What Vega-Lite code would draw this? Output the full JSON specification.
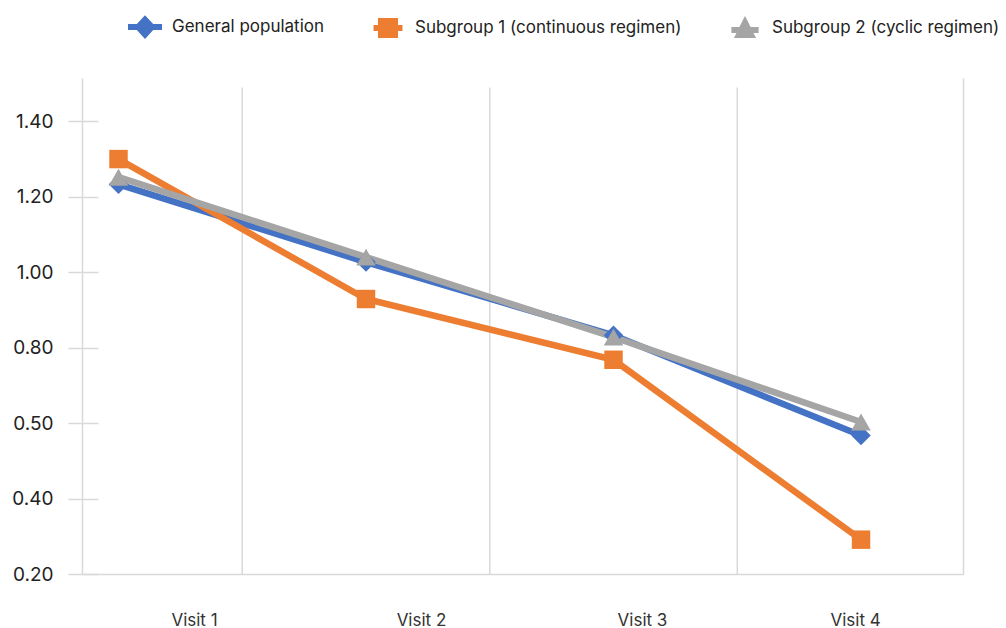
{
  "$schema": "https://vega.github.io/schema/vega-lite/v6.json",
  "width": 881,
  "height": 496,
  "autosize": "none",
  "padding": {"left": 82, "top": 78, "right": 43, "bottom": 54},
  "config": {"view": {"stroke": null}, "font": "Inter"},
  "data": {
    "values": [
      {"series": "General population", "visit": 1, "value": 1.233},
      {"series": "General population", "visit": 2, "value": 1.027},
      {"series": "General population", "visit": 3, "value": 0.833},
      {"series": "General population", "visit": 4, "value": 0.567},
      {"series": "Subgroup 1 (continuous regimen)", "visit": 1, "value": 1.300},
      {"series": "Subgroup 1 (continuous regimen)", "visit": 2, "value": 0.929},
      {"series": "Subgroup 1 (continuous regimen)", "visit": 3, "value": 0.768},
      {"series": "Subgroup 1 (continuous regimen)", "visit": 4, "value": 0.291},
      {"series": "Subgroup 2 (cyclic regimen)", "visit": 1, "value": 1.252},
      {"series": "Subgroup 2 (cyclic regimen)", "visit": 2, "value": 1.040},
      {"series": "Subgroup 2 (cyclic regimen)", "visit": 3, "value": 0.828},
      {"series": "Subgroup 2 (cyclic regimen)", "visit": 4, "value": 0.603}
    ]
  },
  "encoding": {
    "x": {
      "field": "visit",
      "type": "quantitative",
      "scale": {"domain": [0.8525, 4.412], "nice": false, "zero": false},
      "axis": {
        "title": null,
        "values": [1.305, 2.222, 3.115, 3.976],
        "labelExpr": "'Visit ' + round(datum.value)",
        "ticks": false,
        "grid": false,
        "domainColor": "#d9d9d9",
        "domainWidth": 1.5,
        "labelPadding": 38,
        "labelFontSize": 17,
        "labelColor": "#333333",
        "labelFlush": false,
        "labelOverlap": false
      }
    }
  },
  "layer": [
    {
      "data": {"values": [{"visit": 1.5}, {"visit": 2.5}, {"visit": 3.5}]},
      "mark": {"type": "rule", "color": "#d9d9d9", "strokeWidth": 1.5},
      "encoding": {
        "y": {
          "datum": 1.49,
          "type": "quantitative",
          "scale": {"domain": [0.2, 1.515], "nice": false, "zero": false},
          "axis": {"orient": "right", "title": null, "labels": false, "ticks": false, "grid": false, "domain": true, "domainColor": "#d9d9d9", "domainWidth": 1.5}
        },
        "y2": {"datum": 0.2}
      }
    },
    {
      "mark": {"type": "line", "strokeWidth": 6.5},
      "encoding": {
        "y": {
          "field": "value",
          "type": "quantitative",
          "scale": {"domain": [0.2, 1.515], "nice": false, "zero": false},
          "axis": {
            "title": null,
            "values": [0.2, 0.4, 0.6, 0.8, 1.0, 1.2, 1.4],
            "labelExpr": "abs(datum.value - 0.6) < 0.001 ? '0.50' : format(datum.value, '.2f')",
            "labelFontSize": 19,
            "labelColor": "#222222",
            "labelPadding": 15,
            "tickSize": 14,
            "tickColor": "#d9d9d9",
            "tickWidth": 1.5,
            "domainColor": "#d9d9d9",
            "domainWidth": 1.5,
            "grid": true,
            "gridColor": "#d9d9d9",
            "gridWidth": 1.5,
            "gridDash": [16, 3000]
          }
        },
        "color": {
          "field": "series",
          "type": "nominal",
          "scale": {
            "domain": ["General population", "Subgroup 1 (continuous regimen)", "Subgroup 2 (cyclic regimen)"],
            "range": ["#4472C4", "#ED7D31", "#A5A5A5"]
          },
          "legend": {
            "title": null,
            "orient": "none",
            "direction": "horizontal",
            "legendX": 46,
            "legendY": -68,
            "symbolSize": 1156,
            "labelFontSize": 17,
            "labelLimit": 400,
            "labelColor": "#222222",
            "labelOffset": 10,
            "columnPadding": 46,
            "encode": {
              "symbols": {
                "update": {
                  "fill": {"scale": "color", "field": "value"},
                  "fillOpacity": {"value": 1},
                  "strokeWidth": {"value": 0},
                  "shape": {"signal": "datum.value === 'General population' ? 'M-1,-0.18H-0.48L0,-0.7L0.48,-0.18H1V0.18H0.48L0,0.7L-0.48,0.18H-1Z' : datum.value === 'Subgroup 1 (continuous regimen)' ? 'M-0.85,-0.18H-0.59V-0.59H0.59V-0.18H0.85V0.18H0.59V0.59H-0.59V0.18H-0.85Z' : 'M-0.8,-0.05H-0.33L0,-0.7L0.33,-0.05H0.8V0.3H0.5L0.65,0.6H-0.65L-0.5,0.3H-0.8Z'"}
                }
              }
            }
          }
        }
      }
    },
    {
      "transform": [{"filter": "datum.series === 'General population'"}],
      "mark": {"type": "point", "shape": "diamond", "filled": true, "opacity": 1, "size": 380},
      "encoding": {
        "y": {"field": "value", "type": "quantitative", "axis": null},
        "color": {"field": "series", "type": "nominal"}
      }
    },
    {
      "transform": [{"filter": "datum.series === 'Subgroup 1 (continuous regimen)'"}],
      "mark": {"type": "point", "shape": "square", "filled": true, "opacity": 1, "size": 340},
      "encoding": {
        "y": {"field": "value", "type": "quantitative", "axis": null},
        "color": {"field": "series", "type": "nominal"}
      }
    },
    {
      "transform": [{"filter": "datum.series === 'Subgroup 2 (cyclic regimen)'"}],
      "mark": {"type": "point", "shape": "triangle-up", "filled": true, "opacity": 1, "size": 380},
      "encoding": {
        "y": {"field": "value", "type": "quantitative", "axis": null},
        "color": {"field": "series", "type": "nominal"}
      }
    }
  ],
  "resolve": {"axis": {"y": "independent"}}
}
